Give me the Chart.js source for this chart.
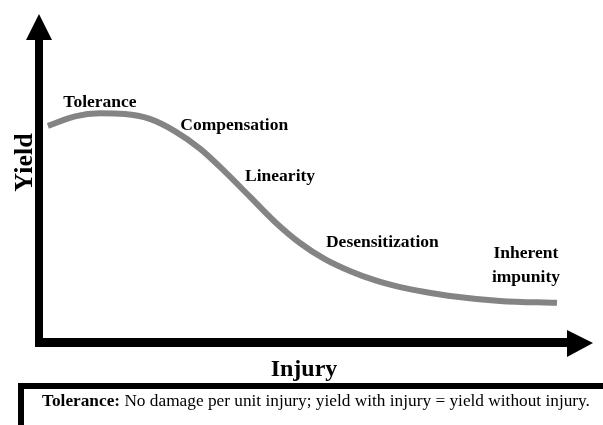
<!DOCTYPE html>
<html>
<head>
<meta charset="utf-8">
<script src="https://cdn.jsdelivr.net/npm/chart.js@4"></script>
<style>
  html, body { margin: 0; padding: 0; background: #fff; }
  #wrap { width: 603px; height: 425px; position: relative; }
</style>
</head>
<body>
<div id="wrap"><canvas id="mainChart"></canvas></div>
<script>
// curve (injury 0-100, yield 0-100)
const injury = [1.6, 6.5, 11.0, 15.5, 20.0, 24.5, 29.1, 33.6, 38.1, 42.6, 47.1, 51.6, 56.1, 60.6, 65.2, 69.7, 74.2, 83.2, 93.5];
const yieldVals = [66.0, 68.9, 69.8, 69.6, 68.1, 64.4, 59.0, 52.0, 44.4, 36.8, 30.4, 25.5, 21.9, 19.1, 17.0, 15.5, 14.3, 12.8, 12.2];

// phase labels along the curve
const phaseNames = ['Tolerance', 'Compensation', 'Linearity', 'Desensitization', 'Inherent', 'impunity'];
const phaseX = [11.0, 25.5, 37.2, 51.8, 87.9, 87.9];
const phaseY = [71.7, 64.7, 49.2, 29.2, 25.8, 18.5];
const phaseAlign = ['center', 'left', 'left', 'left', 'center', 'center'];

const xTitle = 'Injury';
const yTitle = 'Yield';
const noteTerm = 'Tolerance:';
const noteText = ' No damage per unit injury; yield with injury = yield without injury.';

const serif = '"Liberation Serif", "DejaVu Serif", serif';

// arrows, axis titles, phase labels and the note box
const decorPlugin = {
    id: 'decor',
    afterDraw(chart) {
        const ctx = chart.ctx;
        const x = chart.scales.x, y = chart.scales.y;
        const x0 = x.getPixelForValue(0), x1 = x.getPixelForValue(100);
        const y0 = y.getPixelForValue(0), y1 = y.getPixelForValue(100);
        ctx.save();
        ctx.fillStyle = '#000';

        // y axis
        ctx.fillRect(x0 - 4, y1 + 26, 8, y0 - y1 - 22);
        ctx.beginPath();
        ctx.moveTo(x0, y1);
        ctx.lineTo(x0 + 13, y1 + 26);
        ctx.lineTo(x0 - 13, y1 + 26);
        ctx.closePath();
        ctx.fill();

        // x axis
        ctx.fillRect(x0 - 4, y0 - 5, x1 - x0 - 22, 9);
        ctx.beginPath();
        ctx.moveTo(x1, y0);
        ctx.lineTo(x1 - 26, y0 - 13);
        ctx.lineTo(x1 - 26, y0 + 14);
        ctx.closePath();
        ctx.fill();

        // phase labels
        ctx.font = 'bold 17.5px ' + serif;
        ctx.textBaseline = 'alphabetic';
        phaseNames.forEach((name, i) => {
            ctx.textAlign = phaseAlign[i];
            ctx.fillText(name, x.getPixelForValue(phaseX[i]), y.getPixelForValue(phaseY[i]));
        });

        // axis titles
        ctx.textAlign = 'center';
        ctx.font = 'bold 24px ' + serif;
        ctx.fillText(xTitle, (x0 + x1) / 2 - 12, y0 + 33);

        ctx.save();
        ctx.translate(x0 - 7, (y0 + y1) / 2 - 16);
        ctx.rotate(-Math.PI / 2);
        ctx.font = 'bold 26px ' + serif;
        ctx.fillText(yTitle, 0, 0);
        ctx.restore();

        // note box
        ctx.lineWidth = 6;
        ctx.strokeStyle = '#000';
        ctx.strokeRect(21, y0 + 43, 700, 200);

        ctx.textAlign = 'left';
        ctx.font = 'bold 17.3px ' + serif;
        ctx.fillText(noteTerm, 42, y0 + 63);
        const w = ctx.measureText(noteTerm).width;
        ctx.font = '17.3px ' + serif;
        ctx.fillText(noteText, 42 + w, y0 + 63);
        ctx.restore();
    }
};

const ctx = document.getElementById('mainChart').getContext('2d');
new Chart(ctx, {
    type: 'line',
    data: {
        datasets: [{
            data: injury.map((v, i) => ({ x: v, y: yieldVals[i] })),
            borderColor: '#848484',
            borderWidth: 6,
            borderCapStyle: 'butt',
            borderJoinStyle: 'round',
            cubicInterpolationMode: 'monotone',
            pointRadius: 0,
            fill: false
        }]
    },
    options: {
        responsive: true,
        maintainAspectRatio: false,
        animation: false,
        layout: { padding: { top: 14, right: 10, bottom: 82, left: 39 } },
        plugins: { legend: { display: false }, tooltip: { enabled: false } },
        scales: {
            x: { type: 'linear', min: 0, max: 100, display: false },
            y: { min: 0, max: 100, display: false }
        }
    },
    plugins: [decorPlugin]
});
</script>
</body>
</html>
